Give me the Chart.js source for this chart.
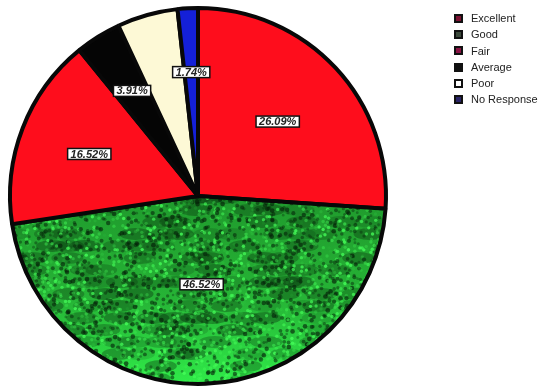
<!DOCTYPE html>
<html>
<head>
<meta charset="utf-8">
<script src="https://cdn.jsdelivr.net/npm/chart.js@4.4.1/dist/chart.umd.min.js"></script>
<style>
    html, body { margin: 0; padding: 0; background: #fff; }
    #wrap { position: relative; width: 544px; height: 389px; }
    #pie { position: absolute; left: 0; top: 0; }
    #legend {
        position: absolute; left: 454px; top: 10px;
        font-family: 'Liberation Sans', Arial, sans-serif;
        font-size: 11px; color: #222; line-height: 16.3px;
    }
    #legend .row { display: flex; align-items: center; white-space: nowrap; }
    #legend .sw {
        width: 5px; height: 5px; border: 2px solid #111;
        margin-right: 8px; box-sizing: content-box;
    }
</style>
</head>
<body>
<div id="wrap">
    <canvas id="pie" width="544" height="389"></canvas>
    <div id="legend"></div>
</div>
<script>
// Survey responses, percent of all answers
const categories = ['Excellent', 'Good', 'Fair', 'Average', 'Poor', 'No Response'];
const shares     = [26.09, 46.52, 16.52, 3.91, 5.22, 1.74];

// Which slices carry a value tag, and how far out (fraction of radius)
const tagRadius  = [0.58, 0.47, 0.62, 0.66, null, 0.66];

const sliceColors  = ['#fe0d1c', null, '#fe0d1c', '#050505', '#fdf9d6', '#1420d8'];
const swatchColors = ['#7c1232', '#3c4a3c', '#8a1444', '#111111', '#ffffff', '#2a2466'];

// Mottled green fill for the "Good" slice
function hash(x, y, s) {
    let n = Math.sin(x * 127.1 + y * 311.7 + s * 74.7) * 43758.5453;
    return n - Math.floor(n);
}

function grassPattern(ctx, w, h) {
    const c = document.createElement('canvas');
    c.width = w; c.height = h;
    const g = c.getContext('2d');
    const grad = g.createLinearGradient(0, 190, 0, 389);
    grad.addColorStop(0, '#1f982c');
    grad.addColorStop(0.55, '#26b436');
    grad.addColorStop(1, '#30ee4a');
    g.fillStyle = grad;
    g.fillRect(0, 0, w, h);
    // coarse dark clouds
    for (let y = 0; y < h; y += 12) {
        for (let x = 0; x < w; x += 18) {
            const v = hash(x, y, 1);
            if (v > 0.55) {
                g.fillStyle = 'rgba(6, 36, 10,' + (0.15 + (v - 0.55) * 0.5) + ')';
                g.beginPath();
                g.ellipse(x + 9 + hash(x, y, 5) * 8, y + 6, 16, 6, 0, 0, Math.PI * 2);
                g.fill();
            }
        }
    }
    // fine blotches, dark and bright
    for (let y = 0; y < h; y += 4) {
        for (let x = 0; x < w; x += 4) {
            const v = hash(x, y, 2);
            const ox = x + hash(x, y, 3) * 4;
            const oy = y + hash(x, y, 4) * 4;
            if (v < 0.36) {
                g.fillStyle = 'rgba(4, 30, 8,' + (0.3 + v) + ')';
                g.beginPath();
                g.arc(ox, oy, 1.3 + v * 3, 0, Math.PI * 2);
                g.fill();
            } else if (v > 0.66) {
                g.fillStyle = 'rgba(70, 255, 90,' + ((v - 0.66) * 2.4) + ')';
                g.beginPath();
                g.arc(ox, oy, 1.7, 0, Math.PI * 2);
                g.fill();
            }
        }
    }
    const b = document.createElement('canvas');
    b.width = w; b.height = h;
    const bg = b.getContext('2d');
    bg.filter = 'blur(0.6px)';
    bg.drawImage(c, 0, 0);
    return ctx.createPattern(b, 'no-repeat');
}

const canvas = document.getElementById('pie');
const ctx = canvas.getContext('2d');
sliceColors[1] = grassPattern(ctx, 544, 389);

// Boxed percentage tags
const valueTags = {
    id: 'valueTags',
    afterDatasetsDraw(chart) {
        const c = chart.ctx;
        const arcs = chart.getDatasetMeta(0).data;
        c.save();
        c.font = 'italic bold 11px "Liberation Sans", Arial, sans-serif';
        c.textAlign = 'center';
        c.textBaseline = 'middle';
        arcs.forEach((arc, i) => {
            if (tagRadius[i] == null) return;
            const p = arc.getProps(['x', 'y', 'startAngle', 'endAngle', 'outerRadius'], true);
            const mid = (p.startAngle + p.endAngle) / 2;
            const r = p.outerRadius * tagRadius[i];
            const x = p.x + Math.cos(mid) * r;
            const y = p.y + Math.sin(mid) * r;
            const text = shares[i].toFixed(2) + '%';
            const w = c.measureText(text).width + 6;
            const h = 11;
            c.fillStyle = '#fff';
            c.fillRect(x - w / 2, y - h / 2, w, h);
            c.lineWidth = 1.5;
            c.strokeStyle = '#111';
            c.strokeRect(x - w / 2, y - h / 2, w, h);
            c.fillStyle = '#222';
            c.fillText(text, x, y + 0.5);
        });
        c.restore();
    }
};

new Chart(canvas, {
    type: 'pie',
    data: {
        labels: categories,
        datasets: [{
            data: shares,
            backgroundColor: sliceColors,
            borderColor: '#080808',
            borderWidth: 4,
            borderAlign: 'center'
        }]
    },
    options: {
        responsive: false,
        animation: false,
        layout: { padding: { left: 8, top: 6, right: 156, bottom: 3 } },
        plugins: {
            legend: { display: false },
            tooltip: { enabled: false }
        }
    },
    plugins: [valueTags]
});

// Legend built from the category list
const legend = document.getElementById('legend');
categories.forEach((name, i) => {
    const row = document.createElement('div');
    row.className = 'row';
    const sw = document.createElement('span');
    sw.className = 'sw';
    sw.style.background = swatchColors[i];
    const label = document.createElement('span');
    label.textContent = name;
    row.appendChild(sw);
    row.appendChild(label);
    legend.appendChild(row);
});
</script>
</body>
</html>
